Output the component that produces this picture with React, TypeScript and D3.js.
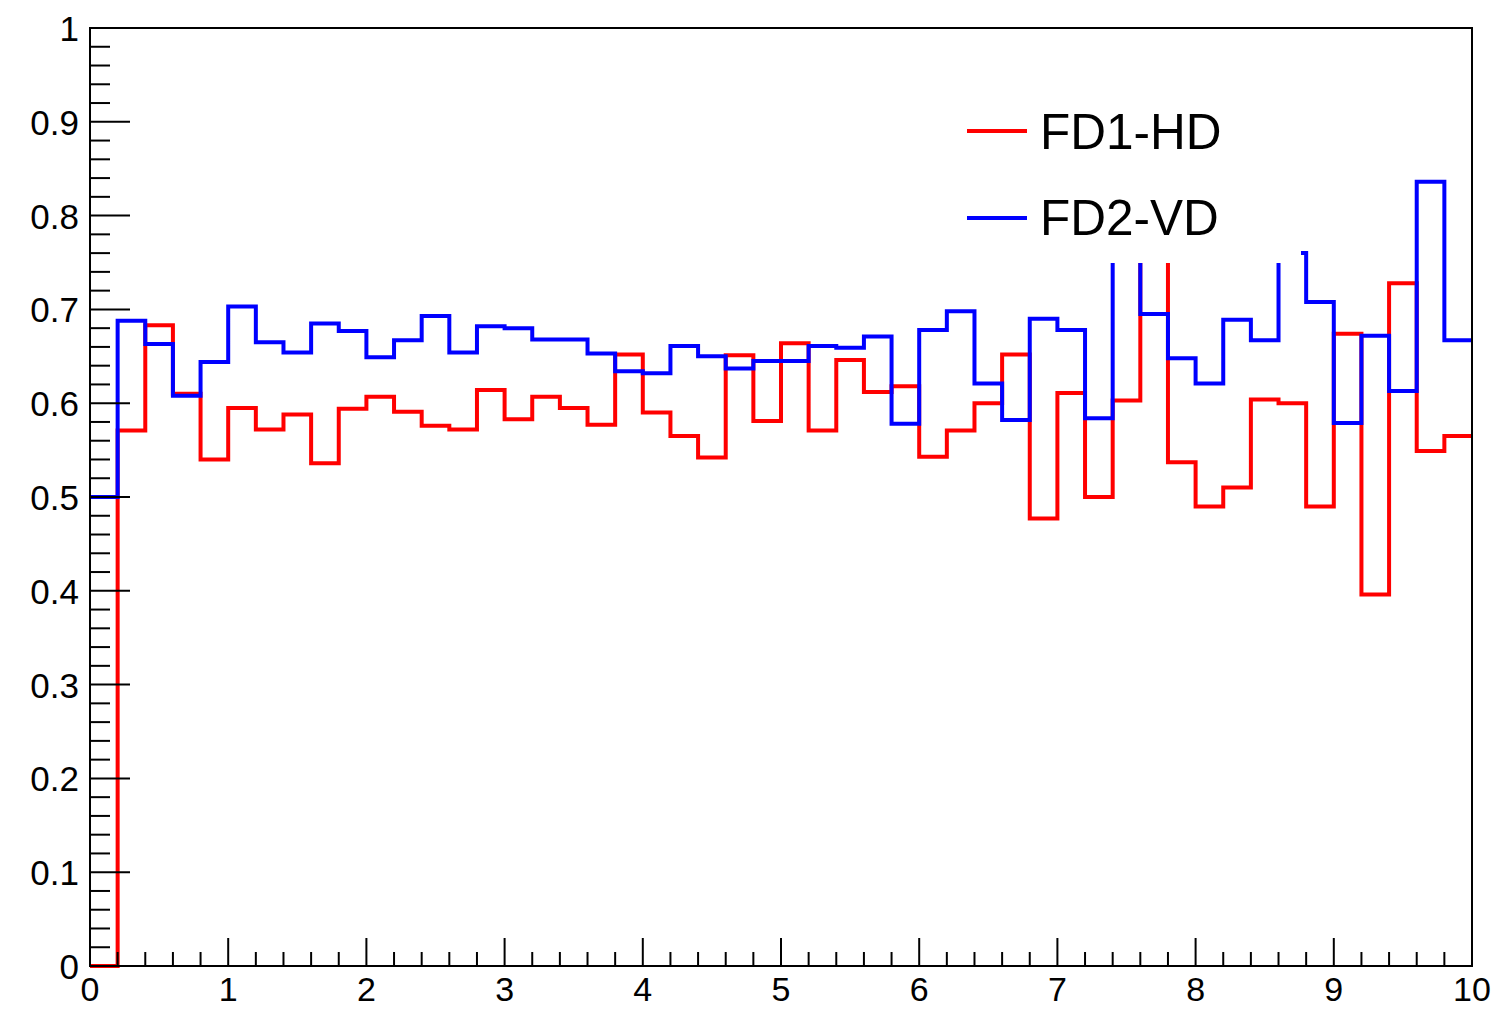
import React from "react";
import * as d3 from "d3";

const binEdgesMin = 0;
const binEdgesMax = 10;
const nBins = 50;

const fd1hd = [
  0.0, 0.571, 0.683, 0.610, 0.540, 0.595, 0.572, 0.588, 0.536, 0.594,
  0.607, 0.591, 0.576, 0.572, 0.614, 0.583, 0.607, 0.595, 0.577, 0.652,
  0.590, 0.565, 0.542, 0.651, 0.581, 0.664, 0.571, 0.646, 0.612, 0.618,
  0.543, 0.571, 0.600, 0.652, 0.477, 0.611, 0.500, 0.603, 0.780, 0.537,
  0.490, 0.510, 0.604, 0.600, 0.490, 0.674, 0.396, 0.728, 0.549, 0.565,
];

const fd2vd = [
  0.500, 0.688, 0.663, 0.608, 0.644, 0.703, 0.665, 0.654, 0.685, 0.677,
  0.649, 0.667, 0.693, 0.654, 0.682, 0.680, 0.668, 0.668, 0.653, 0.634,
  0.632, 0.661, 0.650, 0.637, 0.645, 0.645, 0.661, 0.659, 0.671, 0.578,
  0.678, 0.698, 0.621, 0.582, 0.690, 0.678, 0.584, 0.790, 0.695, 0.648,
  0.621, 0.689, 0.667, 0.760, 0.708, 0.579, 0.672, 0.613, 0.836, 0.667,
];

const xTickLabels = ["0", "1", "2", "3", "4", "5", "6", "7", "8", "9", "10"];
const yTickLabels = ["0", "0.1", "0.2", "0.3", "0.4", "0.5", "0.6", "0.7", "0.8", "0.9", "1"];
const legendLabels = ["FD1-HD", "FD2-VD"];
const seriesColors = ["#ff0000", "#0000ff"];

const W = 1496;
const H = 1009;
const L = 90, R = 1472, T = 28, B = 966;
const FONT = "'Liberation Sans', Arial, Helvetica, sans-serif";

function stepPath(values: number[], x: d3.ScaleLinear<number, number>, y: d3.ScaleLinear<number, number>) {
  const w = (binEdgesMax - binEdgesMin) / nBins;
  const pts: [number, number][] = [];
  values.forEach((v, i) => {
    pts.push([x(binEdgesMin + i * w), y(v)]);
    pts.push([x(binEdgesMin + (i + 1) * w), y(v)]);
  });
  return d3.line()(pts) as string;
}

export default function App() {
  const x = d3.scaleLinear().domain([0, 10]).range([L, R]);
  const y = d3.scaleLinear().domain([0, 1]).range([B, T]);

  const xMinor = d3.range(0, 50.5, 1).map((i) => i * 0.2);
  const yMinor = d3.range(0, 50.5, 1).map((i) => i * 0.02);

  return (
    <svg width={W} height={H} style={{ position: "absolute", left: 0, top: 0, background: "#fff" }}>
      <rect x={0} y={0} width={W} height={H} fill="#fff" />
      <path d={stepPath(fd1hd, x, y)} fill="none" stroke={seriesColors[0]} strokeWidth={4} strokeLinejoin="miter" />
      <path d={stepPath(fd2vd, x, y)} fill="none" stroke={seriesColors[1]} strokeWidth={4} strokeLinejoin="miter" />

      {/* legend box */}
      <rect x={945} y={90} width={356} height={173} fill="#fff" />
      {legendLabels.map((lab, i) => (
        <g key={lab}>
          <line x1={967} x2={1027} y1={131 + i * 87} y2={131 + i * 87} stroke={seriesColors[i]} strokeWidth={4} />
          <text x={1040} y={149 + i * 86} fontFamily={FONT} fontSize={49.5} fill="#000">{lab}</text>
        </g>
      ))}

      {/* frame */}
      <rect x={L} y={T} width={R - L} height={B - T} fill="none" stroke="#000" strokeWidth={2} />

      {/* y ticks */}
      {yMinor.map((v, i) => (
        <line key={"ym" + i} x1={L} x2={L + (i % 5 === 0 ? 40 : 20)} y1={y(v)} y2={y(v)} stroke="#000" strokeWidth={2} />
      ))}
      {yTickLabels.map((lab, i) => (
        <text key={"yl" + i} x={79} y={y(i / 10) + 13} textAnchor="end" fontFamily={FONT} fontSize={35} fill="#000">{lab}</text>
      ))}

      {/* x ticks */}
      {xMinor.map((v, i) => (
        <line key={"xm" + i} x1={x(v)} x2={x(v)} y1={B} y2={B - (i % 5 === 0 ? 28 : 14)} stroke="#000" strokeWidth={2} />
      ))}
      {xTickLabels.map((lab, i) => (
        <text key={"xl" + i} x={x(i)} y={1001} textAnchor="middle" fontFamily={FONT} fontSize={34} fill="#000">{lab}</text>
      ))}
    </svg>
  );
}
